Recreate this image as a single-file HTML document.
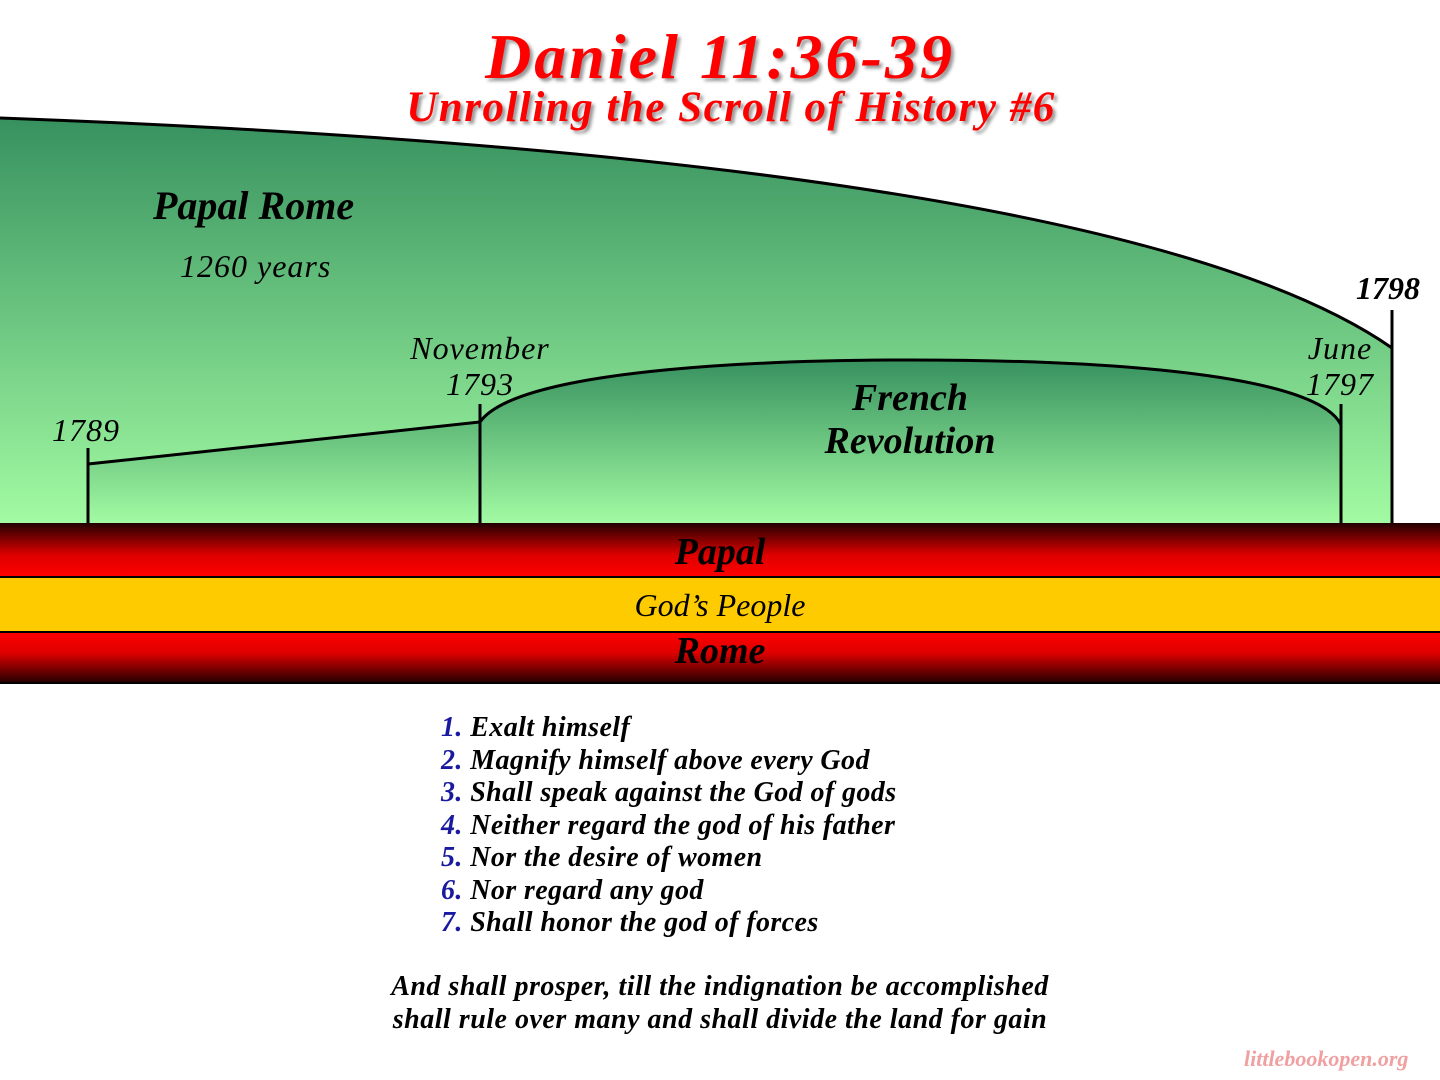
<!DOCTYPE html>
<html><head><meta charset="utf-8"><style>
html,body{margin:0;padding:0;width:1440px;height:1080px;overflow:hidden;background:#fff;position:relative}
.t{position:absolute;font-family:"Liberation Serif",serif;font-style:italic;white-space:nowrap;line-height:1}
.red{color:#f00;font-weight:bold;text-shadow:3px 3px 3px #999}
.lab{font-weight:bold;color:#000}
.list{position:absolute;left:441px;top:712px;font-family:"Liberation Serif",serif;font-style:italic;font-weight:bold;letter-spacing:0.4px;font-size:28px;line-height:32.5px;color:#000}
.list span{color:#1a1aa0}
</style></head><body>
<svg width="1440" height="1080" style="position:absolute;left:0;top:0">
<defs>
<linearGradient id="g1" x1="0" y1="118" x2="0" y2="523" gradientUnits="userSpaceOnUse">
<stop offset="0" stop-color="#37915f"/><stop offset="1" stop-color="#a2fba2"/></linearGradient>
<linearGradient id="g2" x1="0" y1="360" x2="0" y2="523" gradientUnits="userSpaceOnUse">
<stop offset="0" stop-color="#37915f"/><stop offset="1" stop-color="#a2fba2"/></linearGradient>
<linearGradient id="r1" x1="0" y1="0" x2="0" y2="1"><stop offset="0" stop-color="#200"/><stop offset="0.6" stop-color="#d00"/><stop offset="1" stop-color="#f00"/></linearGradient>
<linearGradient id="r2" x1="0" y1="0" x2="0" y2="1"><stop offset="0" stop-color="#f00"/><stop offset="0.4" stop-color="#d00"/><stop offset="1" stop-color="#200"/></linearGradient>
</defs>
<path d="M0,118 C600,140 1180,200 1392,348 L1392,523 L0,523 Z" fill="url(#g1)"/>
<path d="M0,118 C600,140 1180,200 1392,348" fill="none" stroke="#000" stroke-width="3"/>
<path d="M88,464 L480,422 C520,365 800,360 910,360 C1150,360 1320,380 1341,425 L1341,523 L88,523 Z" fill="url(#g2)"/>
<path d="M88,464 L480,422 C520,365 800,360 910,360 C1150,360 1320,380 1341,425" fill="none" stroke="#000" stroke-width="3"/>
<line x1="88" y1="448" x2="88" y2="523" stroke="#000" stroke-width="3"/>
<line x1="480" y1="404" x2="480" y2="523" stroke="#000" stroke-width="3"/>
<line x1="1341" y1="404" x2="1341" y2="523" stroke="#000" stroke-width="3"/>
<line x1="1392" y1="310" x2="1392" y2="523" stroke="#000" stroke-width="3"/>
<rect x="0" y="523" width="1440" height="53" fill="url(#r1)"/>
<rect x="0" y="576" width="1440" height="2.5" fill="#000"/>
<rect x="0" y="578" width="1440" height="53" fill="#fecb00"/>
<rect x="0" y="631" width="1440" height="2.5" fill="#000"/>
<rect x="0" y="633" width="1440" height="50" fill="url(#r2)"/>
<rect x="0" y="682" width="1440" height="2" fill="#000"/>
</svg>
<div class="t red" style="left:0;width:1440px;text-align:center;top:25px;font-size:64px;letter-spacing:3px">Daniel 11:36-39</div>
<div class="t red" style="left:0;width:1462px;text-align:center;top:86px;font-size:43px;letter-spacing:1.5px">Unrolling the Scroll of History #6</div>
<div class="t lab" style="left:153px;top:186px;font-size:40px">Papal Rome</div>
<div class="t" style="left:180px;top:250px;font-size:32px;letter-spacing:1px">1260 years</div>
<div class="t" style="left:52px;top:414px;font-size:32px;letter-spacing:1px">1789</div>
<div class="t" style="left:380px;width:200px;text-align:center;top:330px;font-size:32px;line-height:36px;letter-spacing:1px">November<br>1793</div>
<div class="t" style="left:1240px;width:200px;text-align:center;top:330px;font-size:32px;line-height:36px;letter-spacing:1px">June<br>1797</div>
<div class="t lab" style="left:1356px;top:272px;font-size:32px">1798</div>
<div class="t lab" style="left:760px;width:300px;text-align:center;top:377px;font-size:38px;line-height:43px">French<br>Revolution</div>
<div class="t lab" style="left:0;width:1440px;text-align:center;top:533px;font-size:38px">Papal</div>
<div class="t" style="left:0;width:1440px;text-align:center;top:589px;font-size:32px">God’s People</div>
<div class="t lab" style="left:0;width:1440px;text-align:center;top:632px;font-size:38px">Rome</div>
<div class="list"><span>1.</span> Exalt himself<br><span>2.</span> Magnify himself above every God<br><span>3.</span> Shall speak against the God of gods<br><span>4.</span> Neither regard the god of his father<br><span>5.</span> Nor the desire of women<br><span>6.</span> Nor regard any god<br><span>7.</span> Shall honor the god of forces</div>
<div class="t" style="left:0;width:1440px;text-align:center;top:970px;font-size:28px;line-height:33px;font-weight:bold;letter-spacing:0.5px">And shall prosper, till the indignation be accomplished<br>shall rule over many and shall divide the land for gain</div>
<div class="t" style="left:1244px;top:1048px;font-size:22px;color:#f0a0a0;font-weight:bold">littlebookopen.org</div>
</body></html>
